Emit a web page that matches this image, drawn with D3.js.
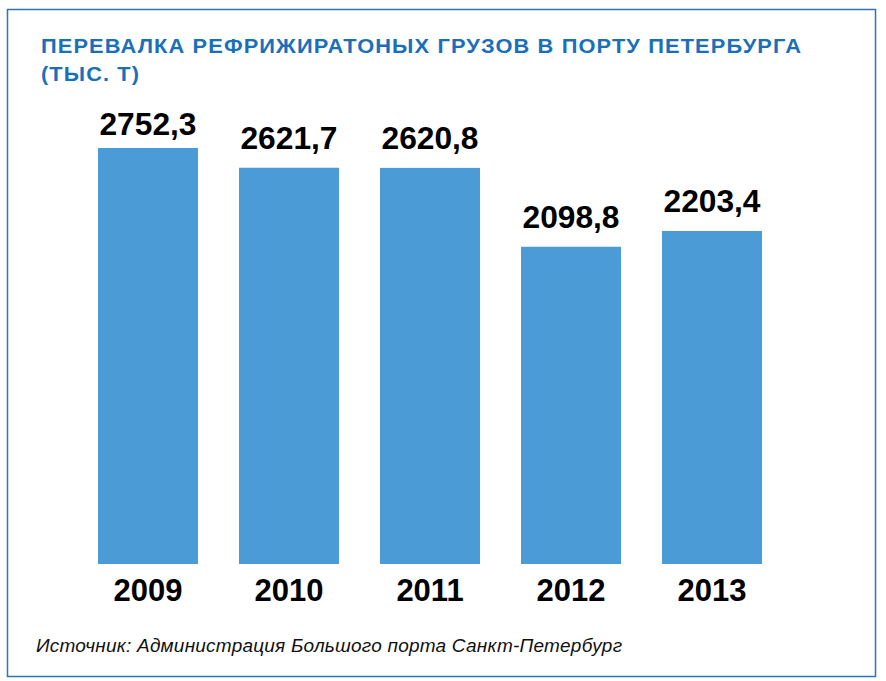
<!DOCTYPE html>
<html><head><meta charset="utf-8">
<script src="https://cdn.jsdelivr.net/npm/d3@7"></script>
<style>
html,body{margin:0;padding:0;background:#fff;}
svg{display:block;}
</style></head>
<body>
<script>
const years = ["2009","2010","2011","2012","2013"];
const values = [2752.3, 2621.7, 2620.8, 2098.8, 2203.4];
const valueLabels = ["2752,3","2621,7","2620,8","2098,8","2203,4"];
const titleLines = ["ПЕРЕВАЛКА РЕФРИЖИРАТОНЫХ ГРУЗОВ В ПОРТУ ПЕТЕРБУРГА", "(ТЫС. Т)"];
const sourceText = "Источник: Администрация Большого порта Санкт-Петербург";

const W = 886, H = 681;
const svg = d3.select("body").append("svg").attr("width", W).attr("height", H);

svg.append("rect").attr("x", 7.5).attr("y", 9.5).attr("width", 868).attr("height", 667)
  .attr("fill", "#fff").attr("stroke", "#2f74b3").attr("stroke-width", 1.5);

const font = "'Liberation Sans', Arial, Helvetica, sans-serif";

// title
const tl = svg.append("g");
tl.append("text").attr("x", 41).attr("y", 53).text(titleLines[0])
  .attr("font-family", font).attr("font-weight", "bold").attr("font-size", 19.5)
  .attr("letter-spacing", 1)
  .attr("fill", "#1a70b8").attr("textLength", 761).attr("lengthAdjust", "spacingAndGlyphs");
tl.append("text").attr("x", 41).attr("y", 81).text(titleLines[1])
  .attr("font-family", font).attr("font-weight", "bold").attr("font-size", 19.5)
  .attr("letter-spacing", 1)
  .attr("fill", "#1a70b8").attr("textLength", 99).attr("lengthAdjust", "spacingAndGlyphs");

const x = d3.scaleBand().domain(years).range([98, 762]).paddingInner(0.291).paddingOuter(0);
const y = d3.scaleLinear().domain([0, 2752.3]).range([564, 148]);

svg.append("g").selectAll("rect").data(values).join("rect")
  .attr("x", (d,i) => x(years[i]))
  .attr("y", d => y(d))
  .attr("width", x.bandwidth())
  .attr("height", d => y(0) - y(d))
  .attr("fill", "#4a9bd6");

svg.append("g").selectAll("text").data(values).join("text")
  .attr("x", (d,i) => x(years[i]) + x.bandwidth()/2)
  .attr("y", d => Math.max(y(d) - 19, 135))
  .attr("text-anchor", "middle")
  .attr("font-family", font).attr("font-weight", "bold").attr("font-size", 32)
  .attr("fill", "#000")
  .attr("textLength", 97).attr("lengthAdjust", "spacingAndGlyphs")
  .text((d,i) => valueLabels[i]);

// year axis labels
const xAxis = d3.axisBottom(x).tickSize(0).tickPadding(0);
const ax = svg.append("g").attr("transform", "translate(0,601)").call(xAxis);
ax.select(".domain").remove();
ax.selectAll("text").attr("dy", 0).attr("y", 0)
  .attr("font-family", font).attr("font-weight", "bold").attr("font-size", 31)
  .attr("fill", "#000");

svg.append("text").attr("x", 36).attr("y", 652).text(sourceText)
  .attr("font-family", font).attr("font-style", "italic").attr("font-size", 19)
  .attr("fill", "#111").attr("textLength", 586).attr("lengthAdjust", "spacing");
</script>
</body></html>
